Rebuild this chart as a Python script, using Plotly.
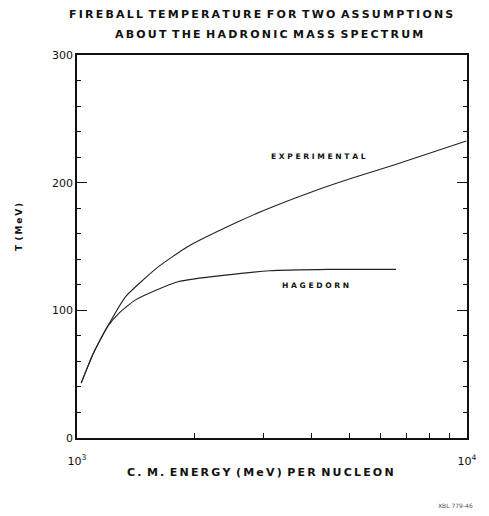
import plotly.graph_objects as go

# Data
exp_energy = [1025, 1100, 1196, 1331, 1615, 1921, 2570, 3000, 4010, 5060, 6500, 9960]
exp_temp = [43, 66, 87, 110.6, 134, 149.8, 168.9, 178, 192.9, 203.4, 213.8, 232.6]
hag_energy = [1025, 1100, 1196, 1280, 1410, 1814, 3118, 4418, 6574]
hag_temp = [43, 66, 87, 97.6, 108, 122.4, 131, 132.1, 132.1]
x_tick_vals = [1000, 10000]
x_tick_text = ["10<sup>3</sup>", "10<sup>4</sup>"]
x_minor_vals = [2000, 3000, 4000, 5000, 6000, 7000, 8000, 9000]
y_tick_vals = [0, 100, 200, 300]

FONT = "DejaVu Sans"
INK = "#111111"
OFF = 8  # page body margin
W, H = 489 - OFF, 516 - OFF
plot_l, plot_r, plot_t, plot_b = 77, 474, 55, 438  # in screenshot pixels


def spaced(s, sep="\u2009"):
    return sep.join(list(s)).replace(sep + " " + sep, "\u2002")


fig = go.Figure()
fig.add_trace(go.Scatter(x=exp_energy, y=exp_temp, mode="lines",
                         line=dict(color="#222222", width=1.1, shape="spline", smoothing=0.5),
                         showlegend=False, hoverinfo="skip"))
fig.add_trace(go.Scatter(x=hag_energy, y=hag_temp, mode="lines",
                         line=dict(color="#222222", width=1.1, shape="spline", smoothing=0.5),
                         showlegend=False, hoverinfo="skip"))

fig.update_layout(
    width=W, height=H,
    margin=dict(l=plot_l - OFF, r=489 - plot_r, t=plot_t - OFF, b=516 - plot_b, pad=0),
    paper_bgcolor="white", plot_bgcolor="white",
    font=dict(family=FONT, color=INK),
    xaxis=dict(type="log", range=[3, 4], tickvals=x_tick_vals, ticktext=x_tick_text,
               ticks="", showgrid=False, zeroline=False, showline=True,
               linecolor=INK, linewidth=1.5, mirror=True, ticklabelstandoff=12,
               tickfont=dict(size=11, family=FONT, color=INK),
               minor=dict(tickvals=x_minor_vals, ticks="inside", ticklen=5,
                          tickcolor=INK, tickwidth=1, showgrid=False)),
    yaxis=dict(range=[0, 300], tickvals=y_tick_vals, ticks="inside", ticklen=10,
               tickcolor=INK, tickwidth=1, showgrid=False, zeroline=False,
               showline=True, linecolor=INK, linewidth=1.5, mirror="ticks",
               tickfont=dict(size=11, family=FONT, color=INK),
               minor=dict(dtick=20, ticks="inside", ticklen=4, tickcolor=INK,
                          tickwidth=1, showgrid=False)),
)

annotations = [
    dict(text="<b>" + spaced("FIREBALL TEMPERATURE FOR TWO ASSUMPTIONS") + "</b>",
         x=264, y=15, size=11),
    dict(text="<b>" + spaced("ABOUT THE HADRONIC MASS SPECTRUM") + "</b>",
         x=272, y=34, size=11),
    dict(text="<b>" + spaced("C. M. ENERGY (MeV) PER NUCLEON") + "</b>",
         x=264, y=472, size=11),
    dict(text="<b>" + spaced("T (MeV)") + "</b>", x=18, y=227, size=9, angle=-90),
    dict(text="<b>" + spaced("EXPERIMENTAL", " ") + "</b>", x=323, y=156, size=7.6),
    dict(text="<b>" + spaced("HAGEDORN", " ") + "</b>", x=320, y=285, size=7.6),
    dict(text="XBL 779-46", x=462, y=505, size=6, color="#555555"),
]
for a in annotations:
    fig.add_annotation(text=a["text"],
                       x=(a["x"] - plot_l) / (plot_r - plot_l),
                       y=(plot_b - a["y"]) / (plot_b - plot_t),
                       xref="paper", yref="paper", showarrow=False,
                       xanchor="center", yanchor="middle",
                       textangle=a.get("angle", 0),
                       font=dict(family=FONT, color=a.get("color", INK), size=a["size"]))

fig.write_html("out.html")
